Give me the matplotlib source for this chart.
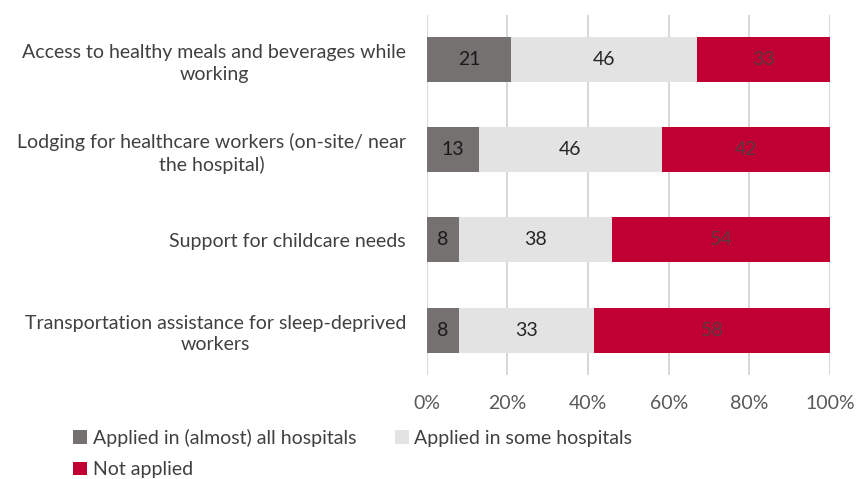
import numpy as np
import matplotlib.pyplot as plt

plt.rcParams.update({'font.size': 14, 'font.family': ['Lato', 'DejaVu Sans']})

# data (percent of hospitals)
categories = ['Access to healthy meals and beverages while\nworking',
              'Lodging for healthcare workers (on-site/ near\nthe hospital)',
              'Support for childcare needs',
              'Transportation assistance for sleep-deprived\nworkers']
all_hosp = [21, 13, 8, 8]
some_hosp = [46, 46, 38, 33]
not_applied = [33, 42, 54, 58]
series_names = ['Applied in (almost) all hospitals', 'Applied in some hospitals', 'Not applied']
colors = ['#757171', '#e3e3e3', '#c00033']
label_colors = ['#1a1a1a', '#262626', '#5a3a40']

series = np.array([all_hosp, some_hosp, not_applied], dtype=float)
# 100% stacked: normalise each row
shares = series / series.sum(axis=0) * 100

fig = plt.figure(figsize=(8.57, 4.79), dpi=100)
ax = fig.add_axes([0.498, 0.217, 0.4705, 0.752])
y = np.arange(len(categories))
left = np.zeros(len(categories))
handles = []
for i in range(3):
    b = ax.barh(y, shares[i], left=left, height=0.5, color=colors[i], label=series_names[i], zorder=2)
    handles.append(b)
    for j in range(len(categories)):
        ax.text(left[j] + shares[i][j] / 2, y[j], f"{int(series[i][j])}", ha='center', va='center',
                color=label_colors[i], fontsize=14, zorder=3)
    left += shares[i]

ax.set_xlim(0, 100)
ax.set_ylim(3.5, -0.5)
ax.set_xticks([0, 20, 40, 60, 80, 100])
ax.set_xticklabels([f"{t}%" for t in [0, 20, 40, 60, 80, 100]], color='#595959')
ax.set_yticks(y)
ax.set_yticklabels(categories, color='#404040', multialignment='center', linespacing=1.3)
ax.tick_params(axis='both', length=0)
ax.tick_params(axis='x', pad=14)
ax.tick_params(axis='y', pad=15)
ax.grid(axis='x', color='#d9d9d9', lw=1.5, zorder=0)
for s in ax.spines.values():
    s.set_visible(False)

# row-major legend order: matplotlib fills columns first
order = [0, 2, 1]
leg = fig.legend(handles=[handles[k] for k in order], labels=[series_names[k] for k in order],
                 ncol=2, loc='lower left', bbox_to_anchor=(0.065, -0.035), frameon=False,
                 handlelength=0.7, handleheight=0.7, handletextpad=0.3, columnspacing=2.0,
                 labelspacing=0.75)
for t in leg.get_texts():
    t.set_color('#404040')

fig.savefig('out.png', dpi=100)
